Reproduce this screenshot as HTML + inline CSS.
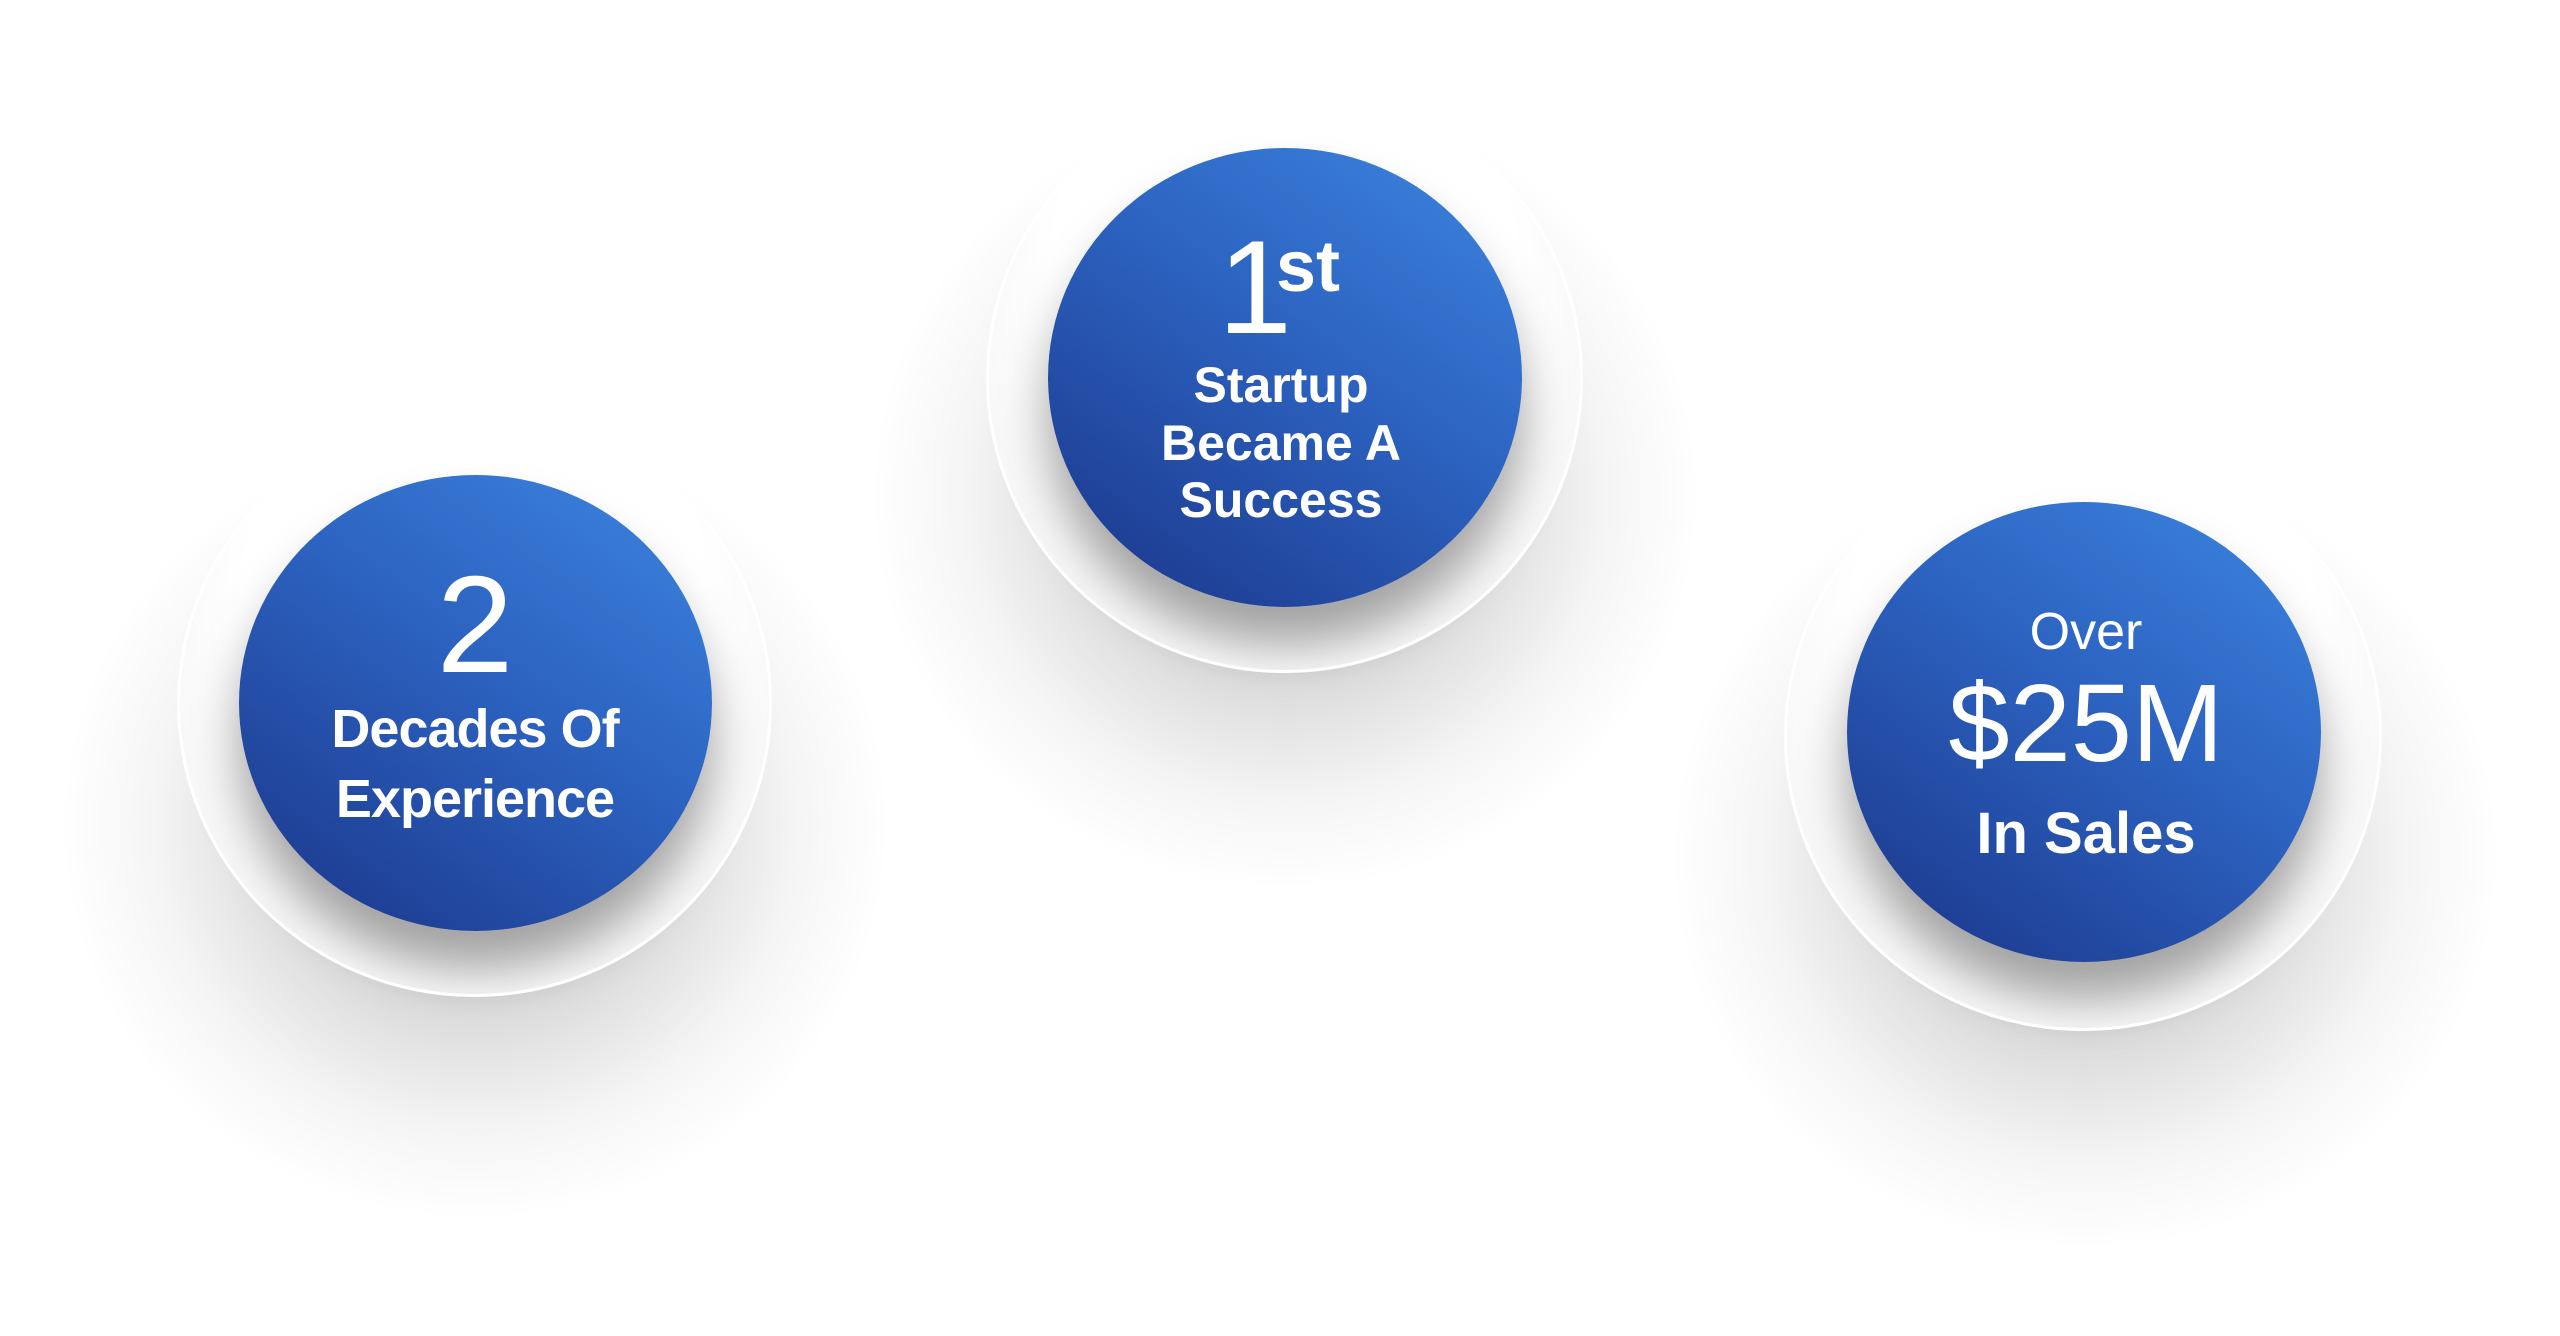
<!DOCTYPE html>
<html><head><meta charset="utf-8"><style>
html,body{margin:0;padding:0;background:#fff;}
body{width:2560px;height:1336px;position:relative;overflow:hidden;font-family:"Liberation Sans",sans-serif;}
.bg{position:absolute;border-radius:50%;background:radial-gradient(closest-side,rgba(0,0,0,0.26) 0%,rgba(0,0,0,0.15) 45%,rgba(0,0,0,0.04) 78%,rgba(0,0,0,0) 100%);}
.disc{position:absolute;border-radius:50%;background:radial-gradient(ellipse at 50% 35%,#ffffff 55%,#eeeeee 100%);}
.in{position:absolute;border-radius:50%;background:linear-gradient(215deg,#3d86e0 0%,#2c62c0 45%,#1a3487 100%);box-shadow:0 38px 48px rgba(0,0,0,0.36);}
.ring{position:absolute;border-radius:50%;border:3px solid #fff;box-sizing:border-box;}
.t{position:absolute;color:#fff;line-height:1;white-space:nowrap;text-align:center;width:500px;font-weight:bold;}
</style></head><body>
<div class="bg" style="left:60px;top:430px;width:830px;height:790px"></div>
<div class="bg" style="left:870px;top:100px;width:830px;height:790px"></div>
<div class="bg" style="left:1670px;top:460px;width:830px;height:790px"></div>

<div class="disc" style="left:177px;top:410px;width:595px;height:587px"></div>
<div class="disc" style="left:986px;top:83px;width:597px;height:590px"></div>
<div class="disc" style="left:1784px;top:441px;width:598px;height:590px"></div>

<div class="in" style="left:239px;top:475px;width:473px;height:456px"></div>
<div class="in" style="left:1048px;top:148px;width:474px;height:459px"></div>
<div class="in" style="left:1847px;top:502px;width:474px;height:460px"></div>

<div class="ring" style="left:177px;top:410px;width:595px;height:587px"></div>
<div class="ring" style="left:986px;top:83px;width:597px;height:590px"></div>
<div class="ring" style="left:1784px;top:441px;width:598px;height:590px"></div>

<div class="t" style="left:225px;top:556px;font-size:138px;font-weight:normal">2</div>
<div class="t" style="left:225px;top:702px;font-size:54px;letter-spacing:-1px">Decades Of</div>
<div class="t" style="left:225px;top:772px;font-size:54px;letter-spacing:-1px">Experience</div>

<div class="t" style="left:1218px;top:222px;font-size:133px;width:auto;font-weight:normal">1</div>
<div class="t" style="left:1276px;top:231px;font-size:72px;width:auto">st</div>
<div class="t" style="left:1031px;top:360px;font-size:50px">Startup</div>
<div class="t" style="left:1031px;top:418px;font-size:50px">Became A</div>
<div class="t" style="left:1031px;top:475px;font-size:50px">Success</div>

<div class="t" style="left:1836px;top:606px;font-size:52px;font-weight:normal">Over</div>
<div class="t" style="left:1836px;top:669px;font-size:110px;font-weight:normal">$25M</div>
<div class="t" style="left:1836px;top:805px;font-size:58px">In Sales</div>
</body></html>
